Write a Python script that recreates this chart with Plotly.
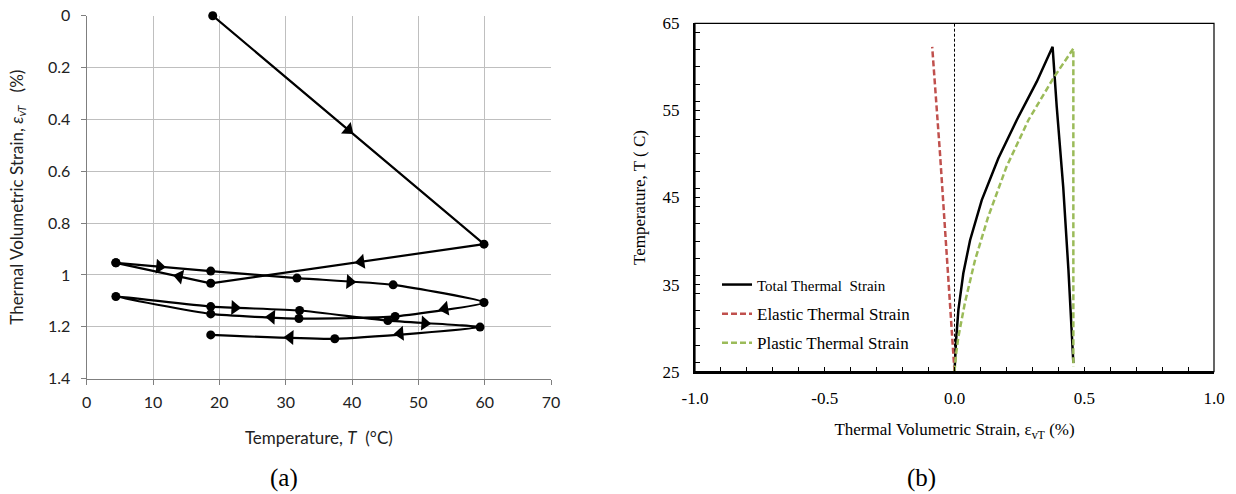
import math
import plotly.graph_objects as go

# ---------------- (a) data : cyclic heating/cooling path ----------------
temp_a = [19.0, 59.9, 18.7, 4.4, 18.7, 31.7, 46.2, 59.9, 46.5, 32.0, 18.7, 4.4,
          18.7, 32.1, 45.4, 59.3, 37.4, 18.7]
strain_a = [0.000, 0.881, 1.032, 0.953, 0.985, 1.012, 1.038, 1.106, 1.160, 1.168,
            1.150, 1.083, 1.122, 1.137, 1.176, 1.201, 1.246, 1.231]
# first legs are straight, the later loops smoothed
n_straight = 4
# direction arrows: segment index (from point i to i+1) and fraction along it
arrow_seg = [0, 1, 2, 3, 5, 7, 9, 12, 14, 15, 16]
arrow_frac = [0.50, 0.45, 0.33, 0.46, 0.55, 0.44, 0.31, 0.27, 0.40, 0.55, 0.36]
a_xticks = [0, 10, 20, 30, 40, 50, 60, 70]
a_yticks = [0, 0.2, 0.4, 0.6, 0.8, 1.0, 1.2, 1.4]

# ---------------- (b) data ----------------
total_x = [0.0, 0.006, 0.015, 0.034, 0.060, 0.105, 0.169, 0.240, 0.317, 0.378,
           0.394, 0.419, 0.439, 0.458]
total_T = [25.0, 28.6, 32.1, 36.3, 40.1, 44.7, 49.5, 53.9, 58.3, 62.3,
           55.4, 46.2, 36.7, 26.0]
elastic_x = [0.0, -0.030, -0.056, -0.086]
elastic_T = [25.0, 38.6, 50.1, 62.3]
plastic_x = [0.0, 0.006, 0.015, 0.040, 0.079, 0.130, 0.200, 0.285, 0.381, 0.458, 0.458]
plastic_T = [25.0, 27.0, 29.0, 32.9, 37.8, 42.8, 48.5, 53.9, 58.7, 62.1, 25.6]
b_xticks = [-1.0, -0.5, 0.0, 0.5, 1.0]
b_xticklabels = ["-1.0", "-0.5", "0.0", "0.5", "1.0"]
b_yticks = [25, 35, 45, 55, 65]

W, H = 1236, 494
# domains (paper fractions)
ax_dom = [86.7 / W, 551.0 / W]
ay_dom = [1 - 378.7 / H, 1 - 15.7 / H]
bx_dom = [695.0 / W, 1214.0 / W]
by_dom = [1 - 371.7 / H, 1 - 23.3 / H]
a_xrange = [0, 70]
a_yrange = [1.4, 0]

fig = go.Figure()

# main path (a)
fig.add_trace(go.Scatter(
    x=temp_a[:n_straight], y=strain_a[:n_straight], mode="lines+markers",
    xaxis="x", yaxis="y", cliponaxis=False,
    line=dict(color="black", width=2.2),
    marker=dict(color="black", size=9), showlegend=False, hoverinfo="x+y"))
fig.add_trace(go.Scatter(
    x=temp_a[n_straight - 1:], y=strain_a[n_straight - 1:], mode="lines+markers",
    xaxis="x", yaxis="y", cliponaxis=False,
    line=dict(color="black", width=2.2, shape="spline", smoothing=0.5),
    marker=dict(color="black", size=9), showlegend=False, hoverinfo="x+y"))

# arrow heads computed along segments, oriented in screen space
px_per_x = (ax_dom[1] - ax_dom[0]) * W / (a_xrange[1] - a_xrange[0])
px_per_y = (ay_dom[1] - ay_dom[0]) * H / (a_yrange[0] - a_yrange[1])
arr_x, arr_y, arr_ang = [], [], []
for s, f in zip(arrow_seg, arrow_frac):
    x0, x1 = temp_a[s], temp_a[s + 1]
    y0, y1 = strain_a[s], strain_a[s + 1]
    arr_x.append(x0 + f * (x1 - x0))
    arr_y.append(y0 + f * (y1 - y0))
    dx = (x1 - x0) * px_per_x
    dy_down = (y1 - y0) * px_per_y  # reversed axis: larger strain is lower
    arr_ang.append(math.degrees(math.atan2(dx, -dy_down)))
fig.add_trace(go.Scatter(
    x=arr_x, y=arr_y, mode="markers", xaxis="x", yaxis="y",
    marker=dict(symbol="triangle-up", size=13, color="black", angle=arr_ang,
                line=dict(width=0)),
    showlegend=False, hoverinfo="skip"))

# (b) traces
fig.add_trace(go.Scatter(
    x=total_x, y=total_T, mode="lines", xaxis="x2", yaxis="y2",
    name='<span style="font-size:15px">Total Thermal  Strain</span>',
    legendgroup="g1", line=dict(color="black", width=2.5)))
fig.add_trace(go.Scatter(
    x=elastic_x, y=elastic_T, mode="lines", xaxis="x2", yaxis="y2",
    name="Elastic Thermal Strain", legendgroup="g2",
    line=dict(color="#c0504d", width=2.5, dash="6px,3px")))
fig.add_trace(go.Scatter(
    x=plastic_x, y=plastic_T, mode="lines", xaxis="x2", yaxis="y2",
    name="Plastic Thermal Strain", legendgroup="g3",
    line=dict(color="#9bbb59", width=2.5, dash="6px,3px")))

# zero reference line in (b)
fig.add_shape(type="line", xref="x2", yref="y2 domain", x0=0, x1=0, y0=0, y1=1,
              line=dict(color="black", width=1, dash="3px,2px"), layer="below")
# thin frame for (b)
fig.add_shape(type="rect", xref="x2 domain", yref="y2 domain", x0=0, x1=1, y0=0, y1=1,
              line=dict(color="black", width=1.2), layer="above")

sans = "Lato, 'Open Sans', sans-serif"
serif = "'Liberation Serif', 'Times New Roman', serif"
grid_c = "#bfbfbf"
axis_c = "#7f7f7f"

fig.update_layout(
    width=W, height=H, margin=dict(l=0, r=0, t=0, b=0, autoexpand=False),
    paper_bgcolor="white", plot_bgcolor="white",
    showlegend=True,
    legend=dict(x=717 / W, y=1 - 267 / H, xanchor="left", yanchor="top",
                bgcolor="rgba(0,0,0,0)", font=dict(family=serif, size=17, color="black"),
                tracegroupgap=4, itemwidth=30),
    xaxis=dict(domain=ax_dom, range=a_xrange, tickvals=a_xticks,
               showgrid=True, gridcolor=grid_c, gridwidth=1,
               showline=True, linecolor=axis_c, linewidth=1.2,
               ticks="outside", ticklen=5, tickcolor=axis_c, zeroline=False,
               ticklabelstandoff=4,
               tickfont=dict(family=sans, size=16, color="#222"),
               title=dict(text="Temperature, <i>T</i>  (°C)",
                          font=dict(family=sans, size=17, color="#222"), standoff=22),
               anchor="y", mirror=False, automargin=False),
    yaxis=dict(domain=ay_dom, range=a_yrange, tickvals=a_yticks,
               showgrid=True, gridcolor=grid_c, gridwidth=1,
               showline=True, linecolor=axis_c, linewidth=1.2,
               ticks="outside", ticklen=5, tickcolor=axis_c, zeroline=False,
               ticklabelstandoff=7,
               tickfont=dict(family=sans, size=16, color="#222"),
               title=dict(text="Thermal Volumetric Strain, <i>ε<sub>vT</sub></i>   (%)",
                          font=dict(family=sans, size=17, color="#222"), standoff=20),
               anchor="x", automargin=False),
    xaxis2=dict(domain=bx_dom, range=[-1, 1], tickvals=b_xticks, ticktext=b_xticklabels,
                showgrid=False, zeroline=False,
                showline=True, linecolor="black", linewidth=2.2,
                ticks="inside", ticklen=5, tickcolor="black", tickwidth=1,
                minor=dict(dtick=0.1, ticks="inside", ticklen=5, tickcolor="black", tickwidth=1),
                ticklabelstandoff=10,
                tickfont=dict(family=serif, size=17, color="black"),
                title=dict(text="Thermal Volumetric Strain, ε<sub>vT</sub> (%)",
                           font=dict(family=serif, size=17, color="black"), standoff=16),
                anchor="y2", automargin=False),
    yaxis2=dict(domain=by_dom, range=[25, 65], tickvals=b_yticks,
                showgrid=False, zeroline=False,
                showline=True, linecolor="black", linewidth=2.2,
                ticks="inside", ticklen=5, tickcolor="black", tickwidth=1,
                minor=dict(dtick=2, ticks="inside", ticklen=5, tickcolor="black", tickwidth=1),
                ticklabelstandoff=10,
                tickfont=dict(family=serif, size=17, color="black"),
                title=dict(text="Temperature, T ( C)",
                           font=dict(family=serif, size=17, color="black"), standoff=13),
                anchor="x2", automargin=False),
    annotations=[
        dict(text="(a)", x=284 / W, y=1 - 478 / H, xref="paper", yref="paper",
             xanchor="center", yanchor="middle",
             showarrow=False, font=dict(family=serif, size=25, color="black")),
        dict(text="(b)", x=921 / W, y=1 - 478 / H, xref="paper", yref="paper",
             xanchor="center", yanchor="middle",
             showarrow=False, font=dict(family=serif, size=25, color="black")),
    ],
)

fig.write_html("out.html", config={"displayModeBar": False},
               post_script="document.body.style.margin='0';")
